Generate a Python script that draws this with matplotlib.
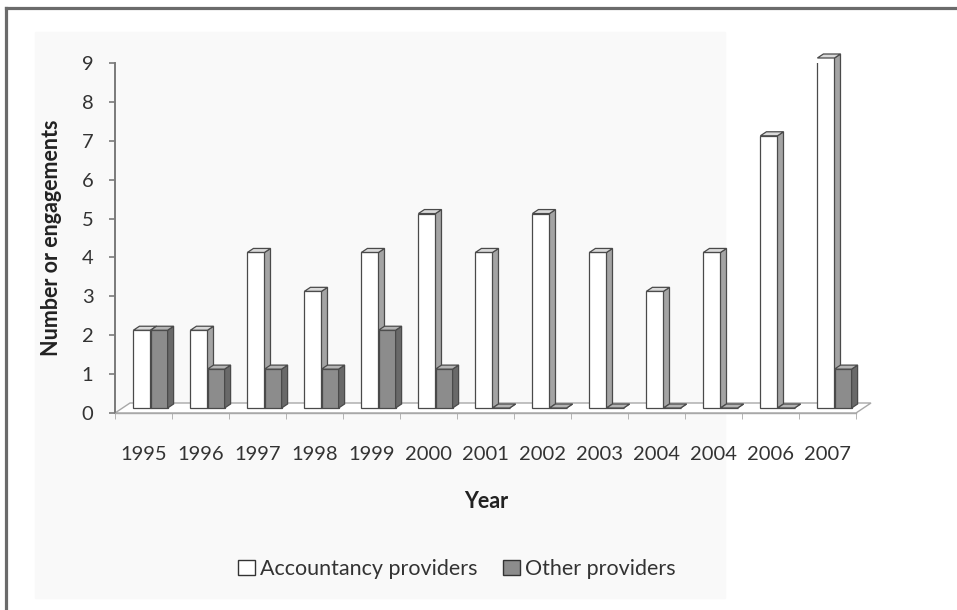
import matplotlib.pyplot as plt
from matplotlib.patches import Polygon, Patch, Rectangle
from matplotlib.lines import Line2D

years = ["1995", "1996", "1997", "1998", "1999", "2000", "2001",
         "2002", "2003", "2004", "2004", "2006", "2007"]
accountancy = [2, 2, 4, 3, 4, 5, 4, 5, 4, 3, 4, 7, 9]
other = [2, 1, 1, 1, 2, 1, 0, 0, 0, 0, 0, 0, 1]

plt.rcParams["font.family"] = ["Lato", "DejaVu Sans"]

W, H = 957, 610
fig = plt.figure(figsize=(W / 100, H / 100), dpi=100)

# faint paper tone and the frame around the chart
fig.patches.append(Rectangle((35 / W, 1 - 598 / H), 690 / W, 566 / H,
                             transform=fig.transFigure, color="#f9f9f9", zorder=-5))
fig.lines.append(Line2D([6 / W, 6 / W], [0, 1 - 7.5 / H], transform=fig.transFigure,
                        color="#6b6b6b", lw=2.3))
fig.lines.append(Line2D([6 / W, 1], [1 - 7.5 / H, 1 - 7.5 / H], transform=fig.transFigure,
                        color="#6b6b6b", lw=2.3))

ax = fig.add_axes([115 / W, (H - 413) / H, 741 / W, 350 / H])
ax.set_zorder(2)
ax.set_facecolor("none")
n = len(years)
ax.set_xlim(-0.5, n - 0.5)
ax.set_ylim(0, 9)

# pixel -> data scale for the 3d offsets
sx = 741 / n
sy = 350 / 9
floor_dx, floor_dy = 15 / sx, 10 / sy
mid_dx, mid_dy = 7 / sx, 5 / sy
dep_dx, dep_dy = 6 / sx, 4 / sy
w = 0.30

floor = Polygon([(-0.5, 0), (n - 0.5, 0), (n - 0.5 + floor_dx, floor_dy),
                 (-0.5 + floor_dx, floor_dy)], closed=True, facecolor="white",
                edgecolor="#a8a8a8", lw=1.0, clip_on=False, zorder=1)
ax.add_patch(floor)

edge = "#4a4a4a"
styles = [("white", "#a4a4a4", "#dadada"), ("#8c8c8c", "#696969", "#b4b4b4")]
series = [accountancy, other]

for i in range(n):
    for j, vals in enumerate(series):
        face, side, top = styles[j]
        x0 = i - w + j * w + mid_dx
        z = 2 + i * 0.1 + j * 0.05
        v = vals[i]
        ax.bar(x0, v, width=w, bottom=mid_dy, align="edge", color=face,
               edgecolor=edge, lw=0.9, zorder=z)
        y1 = mid_dy + v
        ax.add_patch(Polygon([(x0 + w, mid_dy), (x0 + w + dep_dx, mid_dy + dep_dy),
                              (x0 + w + dep_dx, y1 + dep_dy), (x0 + w, y1)],
                             closed=True, facecolor=side, edgecolor=edge, lw=0.9,
                             zorder=z, clip_on=False))
        ax.add_patch(Polygon([(x0, y1), (x0 + w, y1), (x0 + w + dep_dx, y1 + dep_dy),
                              (x0 + dep_dx, y1 + dep_dy)],
                             closed=True, facecolor=top, edgecolor=edge, lw=0.9,
                             zorder=z, clip_on=False))

for s in ["top", "right"]:
    ax.spines[s].set_visible(False)
ax.spines["left"].set_color("#7a7a7a")
ax.spines["left"].set_linewidth(1.4)
ax.spines["bottom"].set_color("#a8a8a8")
ax.spines["bottom"].set_linewidth(1.0)

ax.set_yticks(range(10))
ax.tick_params(axis="y", direction="out", length=4.5, width=1.2, color="#7a7a7a",
               pad=11, labelsize=14.5, labelcolor="#333333")
ax.set_xticks(range(n))
ax.set_xticklabels(years)
ax.set_xticks([k - 0.5 for k in range(n + 1)], minor=True)
ax.tick_params(axis="x", which="major", length=0, pad=24, labelsize=14.5,
               labelcolor="#333333")
ax.tick_params(axis="x", which="minor", direction="out", length=4, color="#a8a8a8")

fig.text(52 / W, 1 - 238 / H, "Number or engagements", rotation=90, ha="center",
         va="center", fontsize=15.5, fontweight="bold", color="#222222")
fig.text(486 / W, 1 - 502 / H, "Year", ha="center", va="center", fontsize=15.5,
         fontweight="bold", color="#222222")

handles = [Patch(facecolor="white", edgecolor="#333333", lw=1.0, label="Accountancy providers"),
           Patch(facecolor="#8c8c8c", edgecolor="#333333", lw=1.0, label="Other providers")]
fig.legend(handles=handles, loc="center", bbox_to_anchor=(457 / W, 1 - 569 / H), ncol=2,
           frameon=False, fontsize=15.5, handlelength=0.75, handleheight=0.75,
           handletextpad=0.25, columnspacing=1.2, labelcolor="#333333")

fig.savefig("out.png", dpi=100)
